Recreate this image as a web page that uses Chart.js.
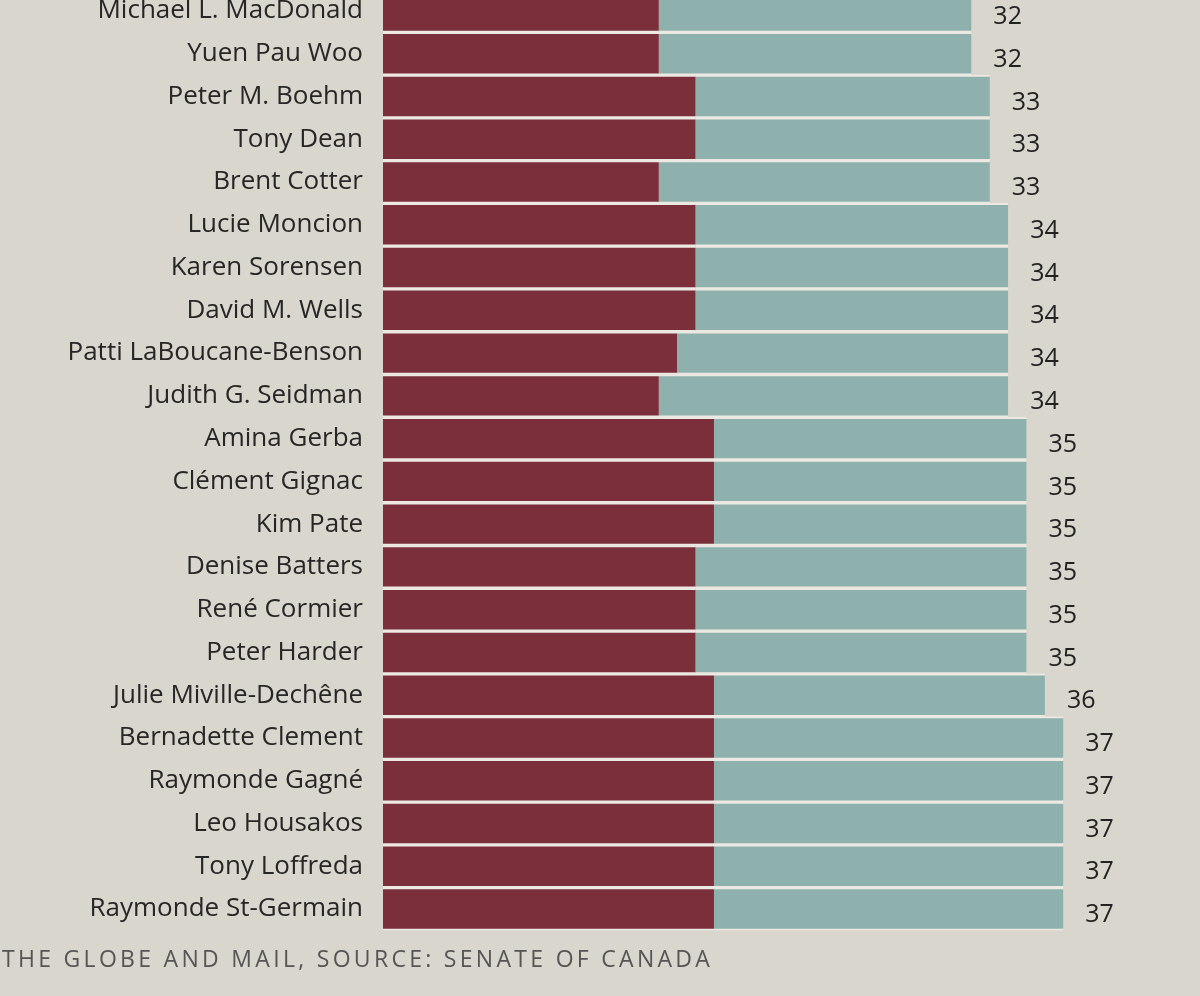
<!DOCTYPE html>
<html><head><meta charset="utf-8">
<script src="https://cdn.jsdelivr.net/npm/chart.js@4/dist/chart.umd.min.js"></script>
<style>
html,body{margin:0;padding:0;background:#d9d6ce;width:1200px;height:996px;overflow:hidden;position:relative}
#wrap{position:absolute;left:0;top:-38px;width:1200px;height:996px}
#foot{position:absolute;left:2px;top:942px;font:23px "Open Sans",sans-serif;letter-spacing:3.3px;color:#555}
</style></head><body>
<div id="wrap"><canvas id="c"></canvas></div>
<div id="foot">THE GLOBE AND MAIL, SOURCE: SENATE OF CANADA</div>
<script>
const names=["Michael L. MacDonald","Yuen Pau Woo","Peter M. Boehm","Tony Dean","Brent Cotter","Lucie Moncion","Karen Sorensen","David M. Wells","Patti LaBoucane-Benson","Judith G. Seidman","Amina Gerba","Clément Gignac","Kim Pate","Denise Batters","René Cormier","Peter Harder","Julie Miville-Dechêne","Bernadette Clement","Raymonde Gagné","Leo Housakos","Tony Loffreda","Raymonde St-Germain"];
const totals=[32,32,33,33,33,34,34,34,34,34,35,35,35,35,35,35,36,37,37,37,37,37];
const redPart=[15,15,17,17,15,17,17,17,16,15,18,18,18,17,17,17,18,18,18,18,18,18];
const tealPart=totals.map((t,i)=>t-redPart[i]);
const labelPlugin={id:'tot',afterDatasetsDraw(ch){const ctx=ch.ctx,x=ch.scales.x,m=ch.getDatasetMeta(1);ctx.save();ctx.font='25px "Open Sans",sans-serif';ctx.fillStyle='#222';ctx.textBaseline='middle';m.data.forEach((b,i)=>{ctx.fillText(totals[i],x.getPixelForValue(totals[i])+22,b.y+6);});ctx.restore();}};
const common={borderColor:'#ece9e2',borderWidth:{top:2,bottom:2,left:0,right:0},borderSkipped:false,barPercentage:1,categoryPercentage:1};
new Chart(document.getElementById('c'),{type:'bar',
data:{labels:names,datasets:[
Object.assign({data:redPart,backgroundColor:'#7b2f3b'},common),
Object.assign({data:tealPart,backgroundColor:'#8fb1ad'},common)]},
options:{indexAxis:'y',responsive:true,maintainAspectRatio:false,animation:false,
layout:{padding:{left:0,right:8,top:0,bottom:0}},
plugins:{legend:{display:false},tooltip:{enabled:false}},
scales:{x:{stacked:true,min:0,max:44,display:false},
y:{stacked:true,grid:{display:false},border:{display:false},
afterFit(s){s.width=383;},
ticks:{color:'#262626',font:{family:'"Open Sans",sans-serif',size:26},padding:12}}}},
plugins:[labelPlugin]});
</script></body></html>
